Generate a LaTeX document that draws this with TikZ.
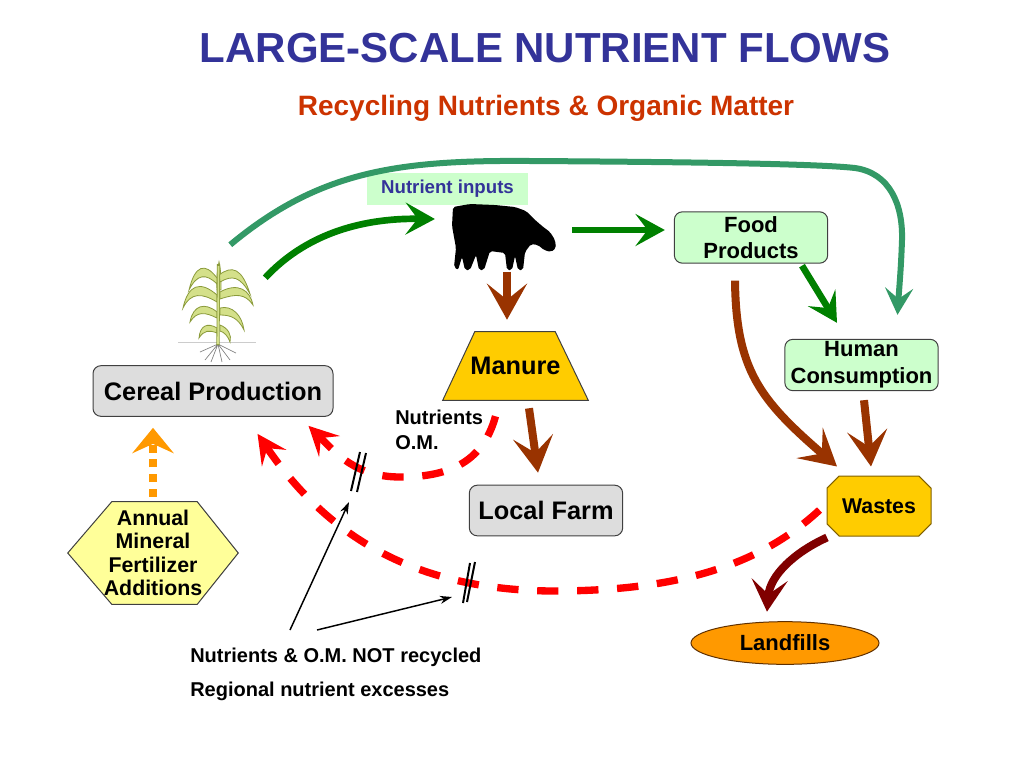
\documentclass[tikz,border=0pt]{standalone}
\usepackage{fontspec}
\setmainfont{Liberation Sans}
\usetikzlibrary{arrows.meta,shapes.geometric,shapes.misc,calc,backgrounds}
\definecolor{titleblue}{HTML}{333399}
\definecolor{subred}{HTML}{CC3300}
\definecolor{flowgreen}{HTML}{008000}
\definecolor{flowteal}{HTML}{339966}
\definecolor{flowbrown}{HTML}{993300}
\definecolor{wastered}{HTML}{800000}
\definecolor{dashred}{HTML}{FF0000}
\definecolor{fertorange}{HTML}{FF9900}
\definecolor{tagmint}{HTML}{CCFFCC}
\definecolor{boxgreen}{HTML}{CCFFCC}
\definecolor{boxgray}{HTML}{DDDDDD}
\definecolor{boxedge}{HTML}{404040}
\definecolor{manuregold}{HTML}{FFCC00}
\definecolor{goldedge}{HTML}{806000}
\definecolor{fillorange}{HTML}{FF9900}
\definecolor{filledge}{HTML}{603000}
\definecolor{fertyellow}{HTML}{FFFF99}
\definecolor{leafgreen}{HTML}{D4E08A}
\definecolor{leafedge}{HTML}{8A9A3A}
\tikzset{
	headline/.style={text=titleblue, font=\fontsize{31.5}{36}\selectfont\bfseries},
	subline/.style={text=subred, font=\fontsize{21}{25}\selectfont\bfseries},
	inputtag/.style={fill=tagmint, text=titleblue, font=\fontsize{14}{16}\selectfont\bfseries, minimum width=121pt, minimum height=24pt, inner sep=0pt},
	flowbox/.style={draw=boxedge, line width=0.75pt, rounded corners=6pt, align=center, inner sep=0pt},
	greenbox/.style={flowbox, fill=boxgreen, minimum width=115pt, minimum height=38.5pt, font=\fontsize{16.5}{20}\selectfont\bfseries},
	graybox/.style={flowbox, fill=boxgray, minimum width=115pt, minimum height=38pt, font=\fontsize{19}{22}\selectfont\bfseries},
	manurebox/.style={inner sep=0pt, minimum width=108.75pt, minimum height=51pt, font=\fontsize{19}{22}\selectfont\bfseries},
	manureshape/.style={draw=boxedge, fill=manuregold, line width=0.75pt},
	wastebox/.style={chamfered rectangle, chamfered rectangle xsep=11.5pt, draw=goldedge, fill=manuregold, line width=0.75pt, minimum width=78pt, minimum height=45pt, inner sep=0pt, font=\fontsize{16}{19}\selectfont\bfseries},
	landfillbox/.style={ellipse, draw=filledge, fill=fillorange, line width=0.75pt, minimum width=141pt, minimum height=32pt, inner sep=0pt, font=\fontsize{16.5}{19}\selectfont\bfseries},
	fertbox/.style={inner sep=0pt, minimum width=127.5pt, minimum height=76.5pt, align=center, font=\fontsize{16}{17.6}\selectfont\bfseries},
	fertshape/.style={draw=boxedge, fill=fertyellow, line width=0.75pt},
	plainlabel/.style={align=left, inner sep=0pt, font=\fontsize{15}{18.75}\selectfont\bfseries},
	greenflow/.style={draw=flowgreen, line width=5pt, -{Stealth[length=22pt,width=24pt,inset=9pt]}},
	tealflow/.style={draw=flowteal, line width=4.5pt, -{Stealth[length=20pt,width=21pt,inset=8pt]}},
	brownflow/.style={draw=flowbrown, line width=6pt, -{Stealth[length=27pt,width=30pt,inset=12pt]}},
	wasteflow/.style={draw=wastered, line width=6pt, -{Stealth[length=24pt,width=27pt,inset=11pt]}},
	redflow/.style={draw=dashred, line width=5.5pt, dash pattern=on 16pt off 14pt, -{Stealth[length=22pt,width=22pt,inset=9pt]}},
	fertflow/.style={draw=fertorange, line width=6pt, dash pattern=on 6pt off 5pt, -{Stealth[length=19pt,width=31pt,inset=7pt]}},
	pointer/.style={draw=black, line width=1.1pt, -{Stealth[length=9pt,width=6pt]}},
	cutbar/.style={draw=black, line width=1.5pt},
	leaf/.style={fill=leafgreen, draw=leafedge, line width=0.6pt},
}
\begin{document}
\begin{tikzpicture}[x=0.75pt,y=0.75pt,yscale=-1,xscale=1]
	\useasboundingbox (0,0) rectangle (1024,768);
	\node[headline] (title) at (545,48) {LARGE-SCALE NUTRIENT FLOWS};
	\node[subline] (subtitle) at (546,108) {Recycling Nutrients \& Organic Matter};
	\node[inputtag] (inputs) at (447.5,189) {Nutrient inputs};
	\node[greenbox] (food) at (751,237.5) {Food\\Products};
	\node[greenbox] (human) at (861.5,365) {Human\\Consumption};
	\node[graybox, minimum width=180pt] (cereal) at (213,391) {Cereal Production};
	\node[graybox] (farm) at (546,510.5) {Local Farm};
	\node[manurebox] (manure) at (515.5,366) {Manure};
	\node[wastebox] (wastes) at (879,506) {Wastes};
	\node[landfillbox] (landfills) at (785,643) {Landfills};
	\node[fertbox] (fert) at (153,553) {Annual\\Mineral\\Fertilizer\\Additions};
	\begin{scope}[on background layer]
		\draw[manureshape] (manure.south west) -- (manure.south east) -- ($(manure.north east)+(-33,0)$) -- ($(manure.north west)+(32,0)$) -- cycle;
		\draw[fertshape] (fert.west) -- ($(fert.north west)+(44,0)$) -- ($(fert.north east)+(-41,0)$) -- (fert.east) -- ($(fert.south east)+(-41,0)$) -- ($(fert.south west)+(44,0)$) -- cycle;
	\end{scope}
	\node[plainlabel, anchor=north west] (nutom) at (395,410) {Nutrients\\O.M.};
	\node[plainlabel, anchor=west] (notrec) at (190,657) {Nutrients \& O.M. NOT recycled};
	\node[plainlabel, anchor=west] (excess) at (190,691) {Regional nutrient excesses};
	\node[inner sep=0pt, minimum width=77pt, minimum height=48pt] (cow) at (504.5,237.5) {};
	\node[inner sep=0pt, minimum width=58.5pt, minimum height=75pt] (plant) at (217,312) {};
	\fill[black, rounded corners=1.5pt] (453,207) -- (470,204) -- (495,205) -- (515,207) -- (526,211) -- (534,219) -- (542,226) -- (550,232) -- (555,240) -- (556,248) -- (551,252) -- (544,250) -- (538,245) -- (531,244) -- (525,252) -- (523,270) -- (518,270) -- (515,256) -- (512,270) -- (507,270) -- (505,253) -- (490,251) -- (484,270) -- (479,270) -- (476,255) -- (470,270) -- (465,270) -- (462,257) -- (458,270) -- (454,267) -- (456,248) -- (452,226) -- cycle;
	\draw[gray!40, line width=0.6pt] (178,342) -- (256,342);
	\draw[gray, line width=0.5pt] (218,344) -- (205,360) (218,344) -- (211,362) (218,344) -- (222,362) (218,344) -- (230,360) (218,344) -- (200,352) (218,344) -- (236,353);
	\draw[leaf] (217,290) .. controls (216,275) and (218,268) .. (219,262) .. controls (221,270) and (221,280) .. (221,290) -- cycle;
	\draw[leaf] (217,278) .. controls (205,262) and (195,265) .. (189,290) .. controls (197,274) and (206,273) .. (217,284) -- cycle;
	\draw[leaf] (219,275) .. controls (232,265) and (242,268) .. (250,294) .. controls (240,276) and (232,275) .. (220,282) -- cycle;
	\draw[leaf] (217,295) .. controls (200,280) and (188,285) .. (183,308) .. controls (191,292) and (202,293) .. (217,302) -- cycle;
	\draw[leaf] (220,292) .. controls (238,282) and (250,290) .. (253,305) .. controls (245,293) and (235,294) .. (220,299) -- cycle;
	\draw[leaf] (217,312) .. controls (205,302) and (193,305) .. (190,322) .. controls (197,311) and (205,312) .. (217,318) -- cycle;
	\draw[leaf] (220,308) .. controls (232,305) and (242,315) .. (244,330) .. controls (238,318) and (231,315) .. (220,315) -- cycle;
	\draw[leaf] (217,328) .. controls (207,322) and (200,326) .. (199,338) .. controls (204,330) and (209,330) .. (217,333) -- cycle;
	\draw[leaf] (220,325) .. controls (228,328) and (232,335) .. (230,342) .. controls (228,336) and (224,332) .. (220,331) -- cycle;
	\draw[leafedge, line width=2.4pt] (218,345) -- (218.5,264);
	\draw[leafgreen, line width=1.2pt] (218,344) -- (218.5,266);
	\draw[tealflow] ($(plant.north east)+(-26,-17)$) .. controls (320,170) and (400,160) .. (530,161) .. controls (700,162) and (820,164) .. (855,168) .. controls (890,173) and (903,205) .. (902,240) .. controls (901,270) and (899,290) .. ($(human.north)+(36,-24)$);
	\draw[greenflow] ($(plant.north east)+(9,16)$) .. controls (305,235) and (360,218) .. ($(cow.west)+(-18,-18.5)$);
	\draw[greenflow] ($(cow.east)+(16,-7.5)$) -- ($(food.west)+(-9,-7.5)$);
	\draw[greenflow] ($(food.south)+(51,2)$) -- ($(human.north)+(-24.5,-16)$);
	\draw[brownflow] ($(cow.south)+(2.5,2)$) -- ($(manure.north)+(-8.5,-12)$);
	\draw[brownflow] ($(manure.south)+(13.5,8)$) -- ($(farm.north)+(-8,-12)$);
	\draw[brownflow] ($(food.south)+(-16,17)$) .. controls (736,370) and (760,400) .. ($(wastes.north)+(-42,-9)$);
	\draw[brownflow] ($(human.south)+(2.5,9)$) -- ($(wastes.north)+(-8,-9)$);
	\draw[wasteflow] ($(wastes.south)+(-52,1)$) .. controls (795,552) and (770,575) .. ($(landfills.north)+(-18,-9.5)$);
	\draw[fertflow] ($(fert.north)+(0,-5)$) -- ($(fert.north |- cereal.south)+(0,11)$);
	\draw[redflow] ($(manure.south)+(-20,16)$) .. controls (482,465) and (445,477) .. (400,477) .. controls (355,477) and (335,452) .. ($(cereal.south east)+(-25,9)$);
	\draw[redflow] ($(wastes.west)+(-7,4)$) .. controls (760,565) and (680,590) .. (560,591) .. controls (420,592) and (330,540) .. ($(cereal.south east)+(-76,17)$);
	\coordinate (cutA) at (358,472);
	\coordinate (cutB) at (469,583);
	\draw[cutbar] ($(cutA)+(2,-20)$) -- ($(cutA)+(-7,19)$);
	\draw[cutbar] ($(cutA)+(8,-19)$) -- ($(cutA)+(-1,20)$);
	\draw[cutbar] ($(cutB)+(1,-20)$) -- ($(cutB)+(-6,20)$);
	\draw[cutbar] ($(cutB)+(6,-21)$) -- ($(cutB)+(-2,19)$);
	\coordinate (ptrA) at (290,630);
	\coordinate (ptrB) at (317,630);
	\draw[pointer] (ptrA) -- ($(cutA)+(-9,30)$);
	\draw[pointer] (ptrB) -- ($(cutB)+(-17,14)$);
\end{tikzpicture}
\end{document}
